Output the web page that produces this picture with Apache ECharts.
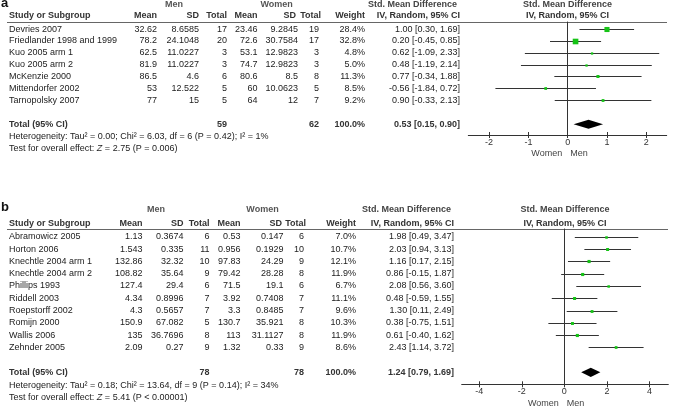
<!DOCTYPE html>
<html><head><meta charset="utf-8">
<script src="https://cdn.jsdelivr.net/npm/echarts@6/dist/echarts.min.js"></script>
<style>html,body{margin:0;padding:0;background:#fff}#c{width:676px;height:407px}</style>
</head><body><div id="c"></div>
<script>
// ---------- Panel a data ----------
const studiesA = ['Devries 2007','Friedlander 1998 and 1999','Kuo 2005 arm 1','Kuo 2005 arm 2','McKenzie 2000','Mittendorfer 2002','Tarnopolsky 2007'];
const menMeanA = ['32.62','78.2','62.5','81.9','86.5','53','77'];
const menSDA = ['8.6585','24.1048','11.0227','11.0227','4.6','12.522','15'];
const menNA = [17,20,3,3,6,5,5];
const womenMeanA = ['23.46','72.6','53.1','74.7','80.6','60','64'];
const womenSDA = ['9.2845','30.7584','12.9823','12.9823','8.5','10.0623','12'];
const womenNA = [19,17,3,3,8,5,7];
const weightA = [28.4,32.8,4.8,5.0,11.3,8.5,9.2];
const smdA = [1.00,0.20,0.62,0.48,0.77,-0.56,0.90];
const lowA = [0.30,-0.45,-1.09,-1.19,-0.34,-1.84,-0.33];
const highA = [1.69,0.85,2.33,2.14,1.88,0.72,2.13];
const totalA = {smd:0.53, low:0.15, high:0.90, men:59, women:62, weight:'100.0%'};
const hetA = ['Heterogeneity: Tau\u00b2 = 0.00; Chi\u00b2 = 6.03, df = 6 (P = 0.42); I\u00b2 = 1%', ' = 2.75 (P = 0.006)'];
const ticksA = [-2,-1,0,1,2];

// ---------- Panel b data ----------
const studiesB = ['Abramowicz 2005','Horton 2006','Knechtle 2004 arm 1','Knechtle 2004 arm 2','Phillips 1993','Riddell 2003','Roepstorff 2002','Romijn 2000','Wallis 2006','Zehnder 2005'];
const menMeanB = ['1.13','1.543','132.86','108.82','127.4','4.34','4.3','150.9','135','2.09'];
const menSDB = ['0.3674','0.335','32.32','35.64','29.4','0.8996','0.5657','67.082','36.7696','0.27'];
const menNB = [6,11,10,9,6,7,7,5,8,9];
const womenMeanB = ['0.53','0.956','97.83','79.42','71.5','3.92','3.3','130.7','113','1.32'];
const womenSDB = ['0.147','0.1929','24.29','28.28','19.1','0.7408','0.8485','35.921','31.1127','0.33'];
const womenNB = [6,10,9,8,6,7,7,8,8,9];
const weightB = [7.0,10.7,12.1,11.9,6.7,11.1,9.6,10.3,11.9,8.6];
const smdB = [1.98,2.03,1.16,0.86,2.08,0.48,1.30,0.38,0.61,2.43];
const lowB = [0.49,0.94,0.17,-0.15,0.56,-0.59,0.11,-0.75,-0.40,1.14];
const highB = [3.47,3.13,2.15,1.87,3.60,1.55,2.49,1.51,1.62,3.72];
const totalB = {smd:1.24, low:0.79, high:1.69, men:78, women:78, weight:'100.0%'};
const hetB = ['Heterogeneity: Tau\u00b2 = 0.18; Chi\u00b2 = 13.64, df = 9 (P = 0.14); I\u00b2 = 34%', ' = 5.41 (P < 0.00001)'];
const ticksB = [-4,-2,0,2,4];

// ---------- layout / style ----------
const FONT = "'Liberation Sans', Arial, sans-serif";
const TXT = '#222', GREEN = '#16c316';
const P = [
  {studies:studiesA, menMean:menMeanA, menSD:menSDA, menN:menNA, womenMean:womenMeanA, womenSD:womenSDA, womenN:womenNA,
   weight:weightA, smd:smdA, low:lowA, high:highA, total:totalA, het:hetA,
   cols:{name:9, mean:157, sd:199, n:227, wmean:257.5, wsd:298, wn:319, weight:365, ci:460},
   hcols:{wsd:296, wn:321}},
  {studies:studiesB, menMean:menMeanB, menSD:menSDB, menN:menNB, womenMean:womenMeanB, womenSD:womenSDB, womenN:womenNB,
   weight:weightB, smd:smdB, low:lowB, high:highB, total:totalB, het:hetB,
   cols:{name:9, mean:142.5, sd:183.5, n:209.5, wmean:240.5, wsd:283.5, wn:304, weight:356, ci:454},
   hcols:{wsd:282, wn:306}}
];

function txt(x, y, s, align, bold, color, size) {
  return {type:'text', silent:true, style:{text:String(s), x:x, y:y, align:align||'right', verticalAlign:'middle',
    fontSize:size||9, fontFamily:FONT, fontWeight:bold?'bold':'normal', fill:color||TXT}};
}
const f2 = v => v.toFixed(2);
const ciText = (m,l,h) => f2(m)+' ['+f2(l)+', '+f2(h)+']';

function rowRenderer(D) {
  return function(params, api) {
    const i = params.dataIndex;
    const smd = api.value(0), row = api.value(1), lo = api.value(2), hi = api.value(3), w = api.value(4);
    const y = api.coord([0,row])[1];
    const c = D.cols;
    const pLo = api.coord([lo,row]), pHi = api.coord([hi,row]), pM = api.coord([smd,row]);
    const s = 1.7 + w*0.12;
    const yl = Math.round(y)+0.5;
    return {type:'group', children:[
      txt(c.name, y, D.studies[i], 'left'),
      txt(c.mean, y, D.menMean[i]),
      txt(c.sd, y, D.menSD[i]),
      txt(c.n, y, D.menN[i]),
      txt(c.wmean, y, D.womenMean[i]),
      txt(c.wsd, y, D.womenSD[i]),
      txt(c.wn, y, D.womenN[i]),
      txt(c.weight, y, w.toFixed(1)+'%'),
      txt(c.ci, y, ciText(smd, lo, hi)),
      {type:'line', shape:{x1:pLo[0], y1:yl, x2:pHi[0], y2:yl}, style:{stroke:'#333', lineWidth:1}},
      {type:'rect', shape:{x:pM[0]-s/2, y:yl-s/2, width:s, height:s}, style:{fill:GREEN}}
    ]};
  };
}
function totalRenderer(D) {
  return function(params, api) {
    const smd = api.value(0), row = api.value(1), lo = api.value(2), hi = api.value(3);
    const y = api.coord([0,row])[1] + 0.5;
    const y1 = api.coord([0,row+1])[1] + 1.2, y2 = api.coord([0,row+2])[1] + 1.2;
    const c = D.cols, h = 4.6;
    const a = api.coord([lo,row])[0], m = api.coord([smd,row])[0], b = api.coord([hi,row])[0];
    return {type:'group', children:[
      txt(c.name, y, 'Total (95% CI)', 'left', true, '#333'),
      txt(c.n, y, D.total.men, 'right', true, '#333'),
      txt(c.wn, y, D.total.women, 'right', true, '#333'),
      txt(c.weight, y, D.total.weight, 'right', true, '#333'),
      txt(c.ci, y, ciText(smd, lo, hi), 'right', true, '#333'),
      {type:'polygon', shape:{points:[[a,y],[m,y-h],[b,y],[m,y+h]]}, style:{fill:'#000'}},
      txt(c.name, y1, D.het[0], 'left'),
      {type:'text', silent:true, style:{x:c.name, y:y2, verticalAlign:'middle', align:'left',
        text:'{n|Test for overall effect: }{i|Z}{n|'+D.het[1]+'}',
        rich:{n:{fontSize:9, fontFamily:FONT, fill:TXT}, i:{fontSize:9, fontFamily:FONT, fontStyle:'italic', fill:TXT}}}}
    ]};
  };
}

const grids = [
  {left:468.3, top:22, width:198.4, height:113},
  {left:461.7, top:229, width:206.6, height:155.3}
];
const xr = [[-2.53, 2.52], [-4.82, 4.88]];
const yr = [[-0.6, 8.95], [-0.65, 12.02]];
const ticks = [ticksA, ticksB];

const xAxis = [], yAxis = [], series = [];
[0,1].forEach(g => {
  xAxis.push({gridIndex:g, type:'value', position:'bottom', min:xr[g][0], max:xr[g][1],
    axisLine:{onZero:false, lineStyle:{color:'#333', width:1}},
    axisTick:{customValues:ticks[g], length:3, lineStyle:{color:'#333'}},
    axisLabel:{customValues:ticks[g], margin:3, fontSize:9, fontFamily:FONT, color:'#333'},
    splitLine:{show:false}});
  yAxis.push({gridIndex:g, type:'value', inverse:true, min:yr[g][0], max:yr[g][1],
    axisLine:{show:true, onZero:true, lineStyle:{color:'#333', width:1}},
    axisTick:{show:false}, axisLabel:{show:false}, splitLine:{show:false}});
});
// overlay axes for the inward half of the crossing ticks
[0,1].forEach(g => {
  xAxis.push({gridIndex:g, type:'value', position:'bottom', min:xr[g][0], max:xr[g][1],
    axisLine:{show:false, onZero:false},
    axisTick:{customValues:ticks[g], inside:true, length:3, lineStyle:{color:'#333'}},
    axisLabel:{show:false}, splitLine:{show:false}});
});
[0,1].forEach(g => {
  const D = P[g];
  series.push({type:'custom', xAxisIndex:g, yAxisIndex:g, clip:false, silent:true,
    renderItem: rowRenderer(D),
    data: D.studies.map((_,i)=>[D.smd[i], i, D.low[i], D.high[i], D.weight[i]])});
  series.push({type:'custom', xAxisIndex:g, yAxisIndex:g, clip:false, silent:true,
    renderItem: totalRenderer(D),
    data: [[D.total.smd, D.studies.length+1, D.total.low, D.total.high]]});
});

function gtext(x, y, s, align, bold, color, size) {
  return {type:'text', silent:true, x:x, y:y, style:{text:s, align:align, verticalAlign:'middle',
    fontSize:size||9, fontFamily:FONT, fontWeight:bold?'bold':'normal', fill:color||TXT}};
}
function header(g, y1, y2, ruleY, ruleR, letterY) {
  const c = P[g].cols, hc = P[g].hcols, gc = grids[g].left + grids[g].width/2;
  const zero = grids[g].left + (0 - xr[g][0])/(xr[g][1]-xr[g][0])*grids[g].width;
  const axisY = grids[g].top + grids[g].height;
  const menC = [174, 156][g], womenC = [276.7, 262.5][g], smdR = [457, 451][g];
  return [
    gtext(1, letterY, ['a','b'][g], 'left', true, '#111', 13),
    gtext(menC, y1, 'Men', 'center', true, '#555'),
    gtext(womenC, y1, 'Women', 'center', true, '#555'),
    gtext(smdR, y1, 'Std. Mean Difference', 'right', true, '#444'),
    gtext(gc, y1, 'Std. Mean Difference', 'center', true, '#444'),
    gtext(c.name, y2, 'Study or Subgroup', 'left', true, '#333'),
    gtext(c.mean, y2, 'Mean', 'right', true, '#333'),
    gtext(c.sd, y2, 'SD', 'right', true, '#333'),
    gtext(c.n, y2, 'Total', 'right', true, '#333'),
    gtext(c.wmean, y2, 'Mean', 'right', true, '#333'),
    gtext(hc.wsd, y2, 'SD', 'right', true, '#333'),
    gtext(hc.wn, y2, 'Total', 'right', true, '#333'),
    gtext(c.weight, y2, 'Weight', 'right', true, '#333'),
    gtext(c.ci, y2, 'IV, Random, 95% CI', 'right', true, '#333'),
    gtext(gc, y2, 'IV, Random, 95% CI', 'center', true, '#333'),
    {type:'line', silent:true, shape:{x1:7, y1:ruleY, x2:ruleR, y2:ruleY}, style:{stroke:'#666', lineWidth:1}},
    gtext(zero-5.5, axisY+19, 'Women', 'right', false, '#444'),
    gtext(zero+2.5, axisY+19, 'Men', 'left', false, '#444')
  ];
}

const chart = echarts.init(document.getElementById('c'), null, {renderer:'canvas'});
chart.setOption({
  animation:false,
  backgroundColor:'#fff',
  grid: grids.map(g => Object.assign({containLabel:false, outerBoundsMode:'none'}, g)),
  xAxis, yAxis, series,
  graphic: header(0, 4.5, 15.5, 22.5, 667, 3.5).concat(header(1, 209.5, 224, 229.5, 668, 207.5))
});
</script>
</body></html>
